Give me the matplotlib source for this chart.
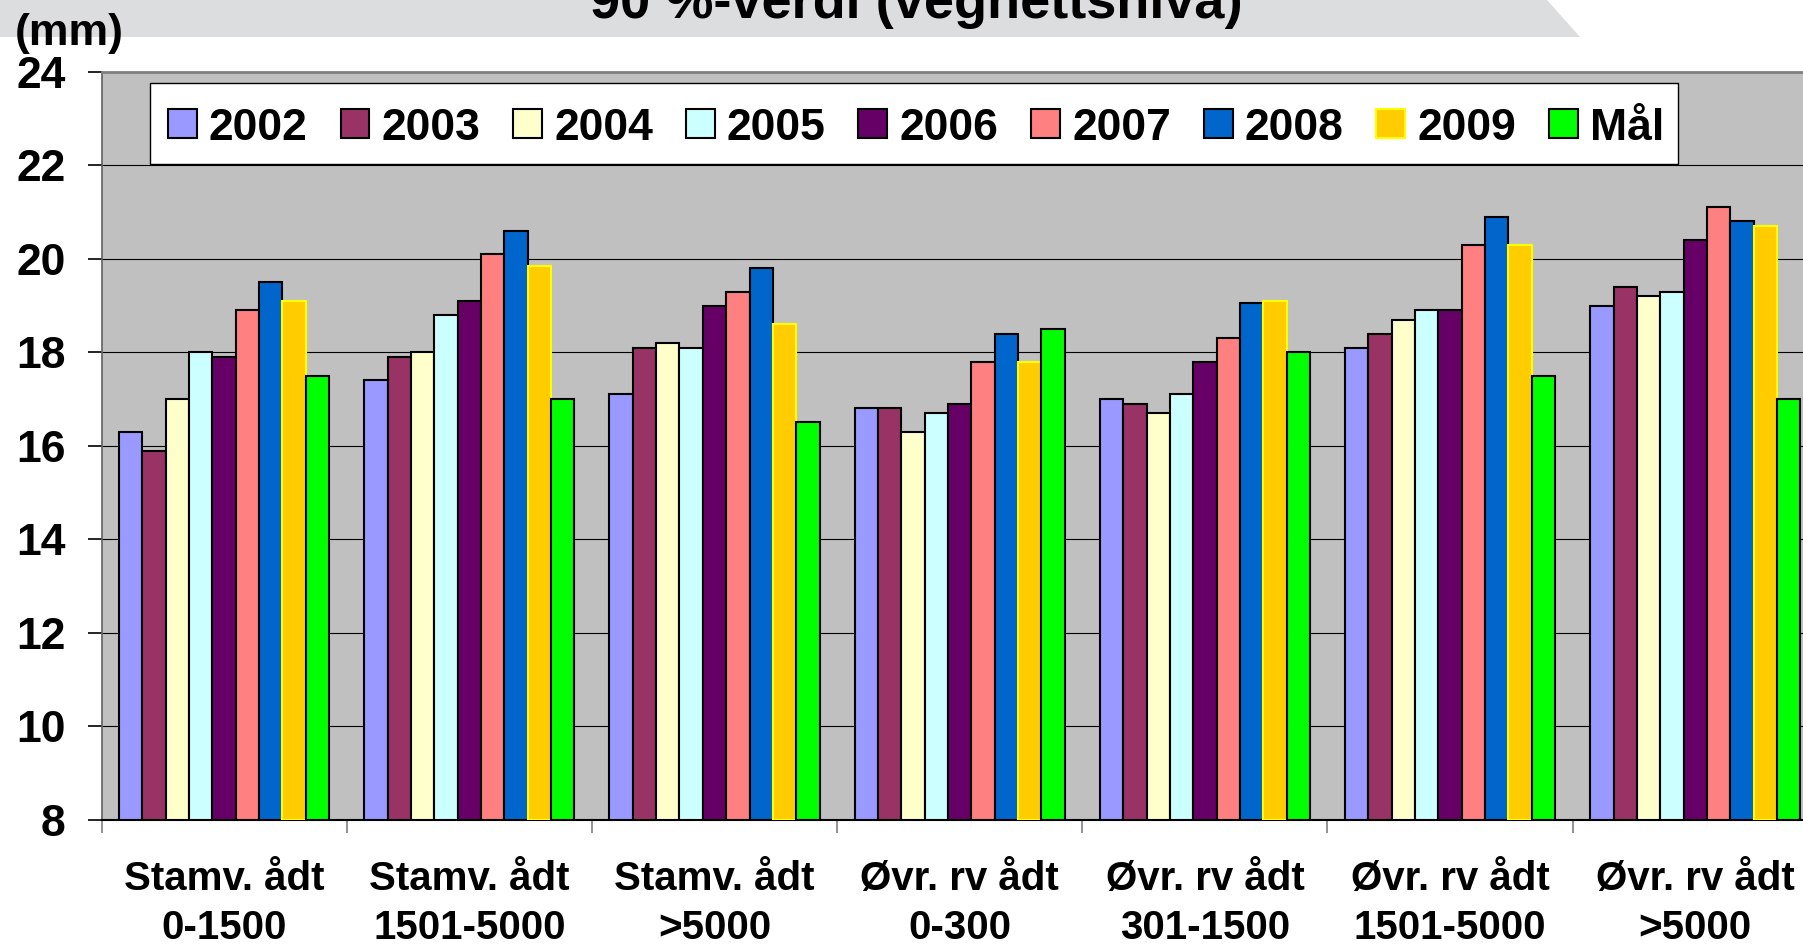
import matplotlib
matplotlib.use("Agg")
import matplotlib.pyplot as plt
from matplotlib.patches import Polygon, Patch, Rectangle
import numpy as np

plt.rcParams['font.family'] = ['Liberation Sans', 'DejaVu Sans']
plt.rcParams['font.weight'] = 'bold'

categories = ["Stamv. ådt\n0-1500", "Stamv. ådt\n1501-5000", "Stamv. ådt\n>5000",
              "Øvr. rv ådt\n0-300", "Øvr. rv ådt\n301-1500", "Øvr. rv ådt\n1501-5000",
              "Øvr. rv ådt\n>5000"]
series = ["2002", "2003", "2004", "2005", "2006", "2007", "2008", "2009", "Mål"]

v2002 = [16.3, 17.4, 17.1, 16.8, 17.0, 18.1, 19.0]
v2003 = [15.9, 17.9, 18.1, 16.8, 16.9, 18.4, 19.4]
v2004 = [17.0, 18.0, 18.2, 16.3, 16.7, 18.7, 19.2]
v2005 = [18.0, 18.8, 18.1, 16.7, 17.1, 18.9, 19.3]
v2006 = [17.9, 19.1, 19.0, 16.9, 17.8, 18.9, 20.4]
v2007 = [18.9, 20.1, 19.3, 17.8, 18.3, 20.3, 21.1]
v2008 = [19.5, 20.6, 19.8, 18.4, 19.05, 20.9, 20.8]
v2009 = [19.1, 19.85, 18.6, 17.8, 19.1, 20.3, 20.7]
vmaal = [17.5, 17.0, 16.5, 18.5, 18.0, 17.5, 17.0]

values = [v2002, v2003, v2004, v2005, v2006, v2007, v2008, v2009, vmaal]
colors = ["#9999FF", "#993366", "#FFFFCC", "#CCFFFF", "#660066",
          "#FF8080", "#0066CC", "#FFCC00", "#00FF00"]
edges = ["black"] * 7 + ["#FFFF00", "black"]

W, H = 1803, 947
fig = plt.figure(figsize=(W / 100, H / 100), dpi=100)

# light grey slide band behind the title
band = Polygon([(0, 1), (1547 / W, 1), (1580 / W, 1 - 37 / H), (0, 1 - 37 / H)],
               closed=True, transform=fig.transFigure, facecolor="#DCDDDF",
               edgecolor="none", zorder=0)
fig.patches.append(band)

ax_left, ax_top, ax_bottom = 101.5, 71.7, 820
cat_w = 245.2
ax_right = ax_left + 7 * cat_w
ax = fig.add_axes([ax_left / W, (H - ax_bottom) / H,
                   (ax_right - ax_left) / W, (ax_bottom - ax_top) / H])
ax.set_facecolor("#C0C0C0")

x = np.arange(len(categories))
bw = 1 / 10.5
for j, (vals, c, e) in enumerate(zip(values, colors, edges)):
    ax.bar(x + (j - 4) * bw, np.array(vals) - 8, bottom=8, width=bw,
           color=c, edgecolor=e, linewidth=1.5, zorder=3)

ax.set_xlim(-0.5, 6.5)
ax.set_ylim(8, 24)
ax.set_yticks(np.arange(8, 25, 2))
ax.yaxis.grid(True, color="black", linewidth=0.8)
ax.set_axisbelow(True)

ax.set_xticks(np.arange(-0.5, 7, 1))
ax.set_xticklabels([])
ax.set_xticks(x, minor=True)
ax.set_xticklabels(categories, minor=True, fontsize=29, fontweight="bold",
                   linespacing=1.36)
ax.tick_params(axis="x", which="major", direction="out", length=9,
               width=1.2, color="#808080")
ax.tick_params(axis="x", which="minor", length=0, pad=29)
ax.tick_params(axis="y", direction="out", length=10, width=1.2,
               color="black", pad=16, labelsize=32)
for lab in ax.get_yticklabels():
    lab.set_fontweight("bold")

ax.spines["top"].set_color("#808080")
ax.spines["top"].set_linewidth(2)
ax.spines["right"].set_visible(False)
ax.spines["left"].set_color("#606060")
ax.spines["left"].set_linewidth(1.2)
ax.spines["bottom"].set_color("black")
ax.spines["bottom"].set_linewidth(1.5)

# legend box drawn separately so the entries can sit a little low in it
fig.patches.append(Rectangle((150 / W, 1 - 164 / H), (1678 - 150) / W, (164 - 83) / H,
                             transform=fig.transFigure, facecolor="white",
                             edgecolor="black", linewidth=1, zorder=5))
handles = [Patch(facecolor=c, edgecolor=e, linewidth=1.5) for c, e in zip(colors, edges)]
leg = fig.legend(handles, series, ncol=9, loc="center left",
                 bbox_to_anchor=(168 / W, 1 - 128 / H),
                 prop={"weight": "bold", "size": 32},
                 handlelength=0.65, handleheight=0.63, handletextpad=0.27,
                 columnspacing=0.74, borderpad=0, borderaxespad=0,
                 frameon=False)
leg.set_zorder(6)

fig.text(15 / W, 1 - 45.5 / H, "(mm)", fontsize=32, fontweight="bold",
         ha="left", va="baseline")
fig.text(916 / W, 1 - 18 / H, "90 %-verdi (vegnettsnivå)", fontsize=39,
         fontweight="bold", ha="center", va="baseline")

fig.savefig("out.png", dpi=100, facecolor="white")
